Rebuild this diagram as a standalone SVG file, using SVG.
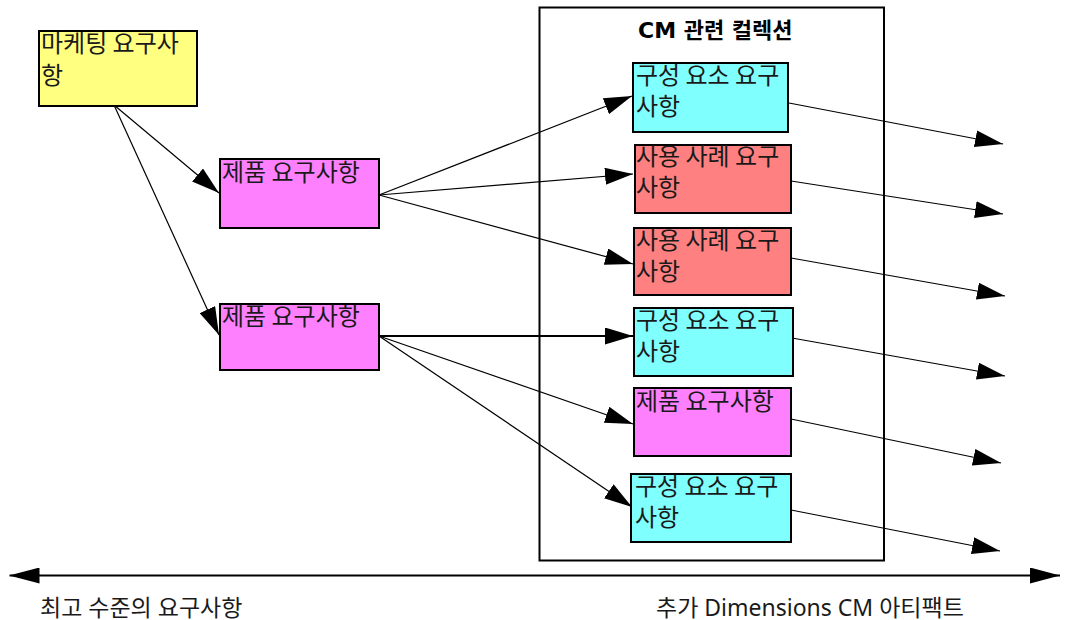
<svg xmlns="http://www.w3.org/2000/svg" width="1066" height="620" viewBox="0 0 1066 620">
<style>
.box{stroke:#000;stroke-width:2}
.y{fill:#FFFF80}.m{fill:#FF80FF}.c{fill:#80FFFF}.r{fill:#FF8080}
.t{font-family:"Noto Sans CJK KR","Noto Sans",sans-serif;font-size:24px;fill:#1a1a1a}
.lbl{font-family:"Noto Sans","Noto Sans CJK KR",sans-serif;font-size:23px;fill:#1a1a1a}
.ttl{font-family:"DejaVu Sans","Noto Sans CJK KR",sans-serif;font-size:22px;font-weight:bold;fill:#000}
.ln{stroke:#000;stroke-width:1.2;fill:none;marker-end:url(#ah)}
.ax{stroke:#000;stroke-width:2;fill:none}
</style>
<defs>
<marker id="ah" viewBox="0 0 28 17" refX="28" refY="8.5" markerWidth="28" markerHeight="17" markerUnits="userSpaceOnUse" orient="auto">
<path d="M0,0 L28,8.5 L0,17 z" fill="#000"/>
</marker>
<marker id="axe" viewBox="0 0 30 16" refX="30" refY="8" markerWidth="30" markerHeight="16" markerUnits="userSpaceOnUse" orient="auto">
<path d="M0,0 L30,8 L0,16 z" fill="#000"/>
</marker>
<marker id="axs" viewBox="0 0 30 16" refX="0" refY="8" markerWidth="30" markerHeight="16" markerUnits="userSpaceOnUse" orient="auto">
<path d="M30,0 L0,8 L30,16 z" fill="#000"/>
</marker>
</defs>

<g id="container">
<rect x="539.5" y="7.5" width="344.5" height="553" fill="none" stroke="#000" stroke-width="2"/>
<text class="ttl" x="638" y="38">CM 관련 컬렉션</text>
</g>

<g id="connectors">
<line class="ln" x1="114" y1="105" x2="219" y2="193"/>
<line class="ln" x1="114" y1="105" x2="219" y2="335"/>
<line class="ln" x1="379" y1="195" x2="632" y2="96"/>
<line class="ln" x1="379" y1="195" x2="633" y2="174"/>
<line class="ln" x1="379" y1="195" x2="633" y2="264"/>
<line class="ln" x1="379" y1="336" x2="633" y2="336" style="stroke-width:2"/>
<line class="ln" x1="379" y1="336" x2="633" y2="424"/>
<line class="ln" x1="379" y1="336" x2="632" y2="507"/>
<line class="ln" x1="789" y1="103" x2="1003" y2="144"/>
<line class="ln" x1="791" y1="181" x2="1003" y2="214"/>
<line class="ln" x1="791" y1="258" x2="1005" y2="296"/>
<line class="ln" x1="792" y1="338" x2="1005" y2="376"/>
<line class="ln" x1="791" y1="419" x2="1001" y2="463"/>
<line class="ln" x1="791" y1="510" x2="1000" y2="551"/>
<line class="ax" x1="9.5" y1="575.5" x2="1060" y2="575.5" marker-start="url(#axs)" marker-end="url(#axe)"/>
</g>

<g id="n-marketing">
<rect class="box y" x="39" y="31" width="158" height="75"/>
<text class="t" x="41" y="52">마케팅 요구사</text>
<text class="t" x="41" y="84">항</text>
</g>
<g id="n-product1">
<rect class="box m" x="220" y="159" width="159" height="69"/>
<text class="t" x="222" y="181">제품 요구사항</text>
</g>
<g id="n-product2">
<rect class="box m" x="220" y="304" width="159" height="66"/>
<text class="t" x="222" y="325">제품 요구사항</text>
</g>
<g id="n-comp1">
<rect class="box c" x="633" y="63" width="155" height="69"/>
<text class="t" x="636" y="84">구성 요소 요구</text>
<text class="t" x="636" y="115">사항</text>
</g>
<g id="n-use1">
<rect class="box r" x="635" y="145" width="156" height="68"/>
<text class="t" x="636" y="165">사용 사례 요구</text>
<text class="t" x="636" y="196">사항</text>
</g>
<g id="n-use2">
<rect class="box r" x="634" y="228" width="157" height="67"/>
<text class="t" x="636" y="249">사용 사례 요구</text>
<text class="t" x="636" y="280">사항</text>
</g>
<g id="n-comp2">
<rect class="box c" x="634" y="308" width="159" height="68"/>
<text class="t" x="636" y="329">구성 요소 요구</text>
<text class="t" x="636" y="360">사항</text>
</g>
<g id="n-product3">
<rect class="box m" x="634" y="388" width="157" height="68"/>
<text class="t" x="636" y="410">제품 요구사항</text>
</g>
<g id="n-comp3">
<rect class="box c" x="631" y="474" width="160" height="68"/>
<text class="t" x="635" y="495">구성 요소 요구</text>
<text class="t" x="635" y="526">사항</text>
</g>

<g id="labels">
<text class="lbl" x="40" y="616">최고 수준의 요구사항</text>
<text class="lbl" x="656" y="616">추가 Dimensions CM 아티팩트</text>
</g>
</svg>
